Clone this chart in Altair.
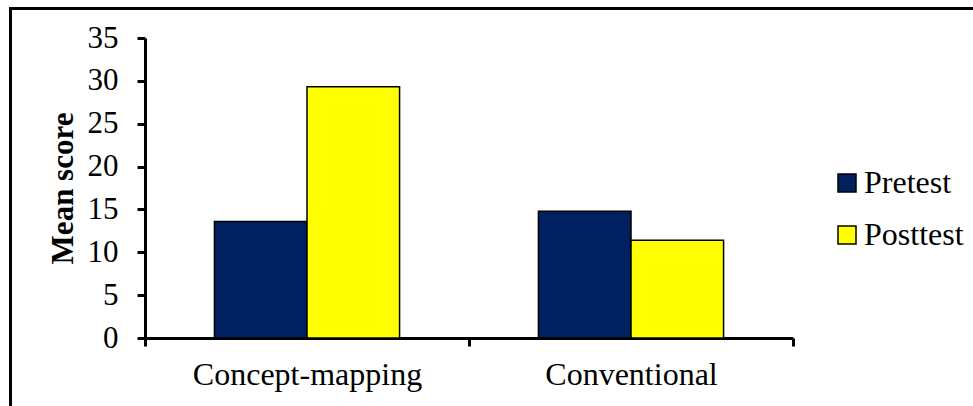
import altair as alt
import pandas as pd

# Mean scores by teaching method
categories = ["Concept-mapping", "Conventional"]
tests = ["Pretest", "Posttest"]
pretest = [13.6, 14.8]
posttest = [29.3, 11.4]
y_ticks = [0, 5, 10, 15, 20, 25, 30, 35]
colors = ["#002060", "#FFFF00"]

rows = []
for i, cat in enumerate(categories):
    rows.append({"method": cat, "test": "Pretest", "score": pretest[i]})
    rows.append({"method": cat, "test": "Posttest", "score": posttest[i]})
df = pd.DataFrame(rows)

FONT = "Times New Roman, Liberation Serif, DejaVu Serif, serif"

bars = alt.Chart(df).mark_bar(stroke="black", strokeWidth=1.5).encode(
    x=alt.X(
        "method:N",
        sort=categories,
        title=None,
        scale=alt.Scale(paddingInner=0, paddingOuter=0),
        axis=alt.Axis(
            labelAngle=0,
            labelFont=FONT,
            labelFontSize=32,
            labelColor="black",
            labelPadding=13,
            labelLimit=0,
            domainColor="black",
            domainWidth=3,
            tickColor="black",
            tickWidth=3,
            tickSize=8,
            tickBand="extent",
        ),
    ),
    xOffset=alt.XOffset(
        "test:N", sort=tests, scale=alt.Scale(paddingInner=0, paddingOuter=0.75)
    ),
    y=alt.Y(
        "score:Q",
        title="Mean score",
        scale=alt.Scale(domain=[0, 35], nice=False),
        axis=alt.Axis(
            values=y_ticks,
            grid=False,
            labelFont=FONT,
            labelFontSize=31,
            labelColor="black",
            labelPadding=19,
            domainColor="black",
            domainWidth=3,
            tickColor="black",
            tickWidth=3,
            tickSize=8,
            titleFont=FONT,
            titleFontSize=31,
            titleFontWeight="bold",
            titleColor="black",
            titleAngle=-90,
            titleX=-73,
            titleY=150,
            titleBaseline="alphabetic",
            titleAlign="center",
        ),
    ),
    color=alt.Color(
        "test:N",
        sort=tests,
        scale=alt.Scale(domain=tests, range=colors),
        legend=alt.Legend(
            title=None,
            orient="none",
            legendX=686,
            legendY=129,
            symbolType="square",
            symbolSize=324,
            symbolStrokeColor="black",
            symbolStrokeWidth=1.5,
            labelFont=FONT,
            labelFontSize=32,
            labelColor="black",
            labelOffset=1,
            labelLimit=0,
            rowPadding=20,
            padding=0,
        ),
    ),
)

# Outer frame around the figure
frame = alt.Chart(pd.DataFrame({"k": [0]})).mark_rect(
    fill=None, stroke="black", strokeWidth=3
).encode(
    x=alt.value(-134.5),
    x2=alt.value(900),
    y=alt.value(-29.5),
    y2=alt.value(450),
)

chart = (
    alt.layer(frame, bars)
    .properties(
        width=648,
        height=300,
        autosize=alt.AutoSizeParams(type="none"),
        padding={"left": 145, "top": 38, "right": 180, "bottom": 68},
        background="white",
    )
    .configure_view(stroke=None)
)

chart.save("out.html", embed_options={"renderer": "svg", "actions": False})
